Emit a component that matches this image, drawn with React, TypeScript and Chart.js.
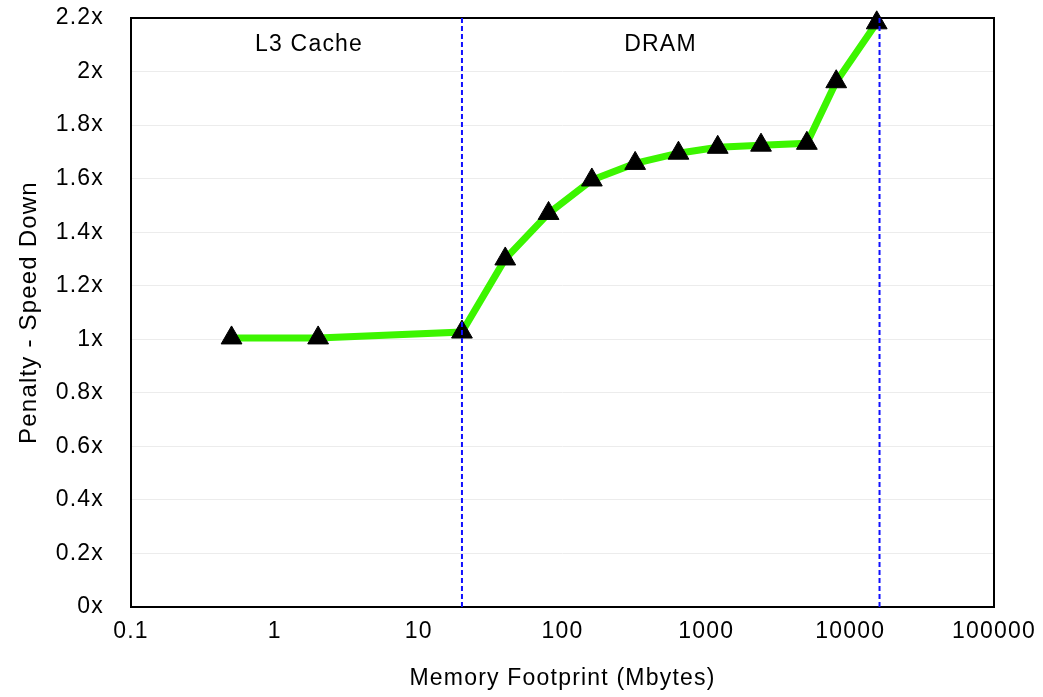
import { useEffect, useRef } from "react";
import { Chart, registerables } from "chart.js";

Chart.register(...registerables);

// ---- data ----
const footprintMB = [0.5, 2, 20, 40, 80, 160, 320, 640, 1200, 2400, 5000, 8000, 15300];
const penaltyFactor = [1.005, 1.005, 1.027, 1.3, 1.47, 1.595, 1.657, 1.695, 1.717, 1.725, 1.732, 1.962, 2.182];
const boundaryMB = [20, 16000];
const boundarySpan = [0, 2.2];
const regionNames = ["L3 Cache", "DRAM"];
const regionCenterMB = [1.73, 480];
const regionLabelLevel = 2.1;
const xTickValues = [0.1, 1, 10, 100, 1000, 10000, 100000];
const xTickLabels = ["0.1", "1", "10", "100", "1000", "10000", "100000"];
const yTickValues = [0, 0.2, 0.4, 0.6, 0.8, 1, 1.2, 1.4, 1.6, 1.8, 2, 2.2];
const yTickLabels = ["0x", "0.2x", "0.4x", "0.6x", "0.8x", "1x", "1.2x", "1.4x", "1.6x", "1.8x", "2x", "2.2x"];

const FONT = '"Liberation Sans", Arial, Helvetica, sans-serif';
const SPACING = "1.2px";

const spacingPlugin = {
  id: "spacing",
  beforeUpdate(chart: any) {
    chart.ctx.letterSpacing = SPACING;
  },
  beforeDraw(chart: any) {
    chart.ctx.letterSpacing = SPACING;
  },
};

const framePlugin = {
  id: "frame",
  beforeDatasetsDraw(chart: any) {
    const { ctx, chartArea } = chart;
    ctx.save();
    ctx.strokeStyle = "#000";
    ctx.lineWidth = 2;
    ctx.strokeRect(chartArea.left, chartArea.top, chartArea.right - chartArea.left, chartArea.bottom - chartArea.top);
    ctx.restore();
  },
};

const regionTextPlugin = {
  id: "regionText",
  afterDatasetsDraw(chart: any) {
    const { ctx, scales } = chart;
    ctx.save();
    ctx.letterSpacing = SPACING;
    ctx.font = `23px ${FONT}`;
    ctx.fillStyle = "#000";
    ctx.textAlign = "center";
    ctx.textBaseline = "middle";
    regionNames.forEach((name, i) => {
      ctx.fillText(name, scales.x.getPixelForValue(regionCenterMB[i]), scales.y.getPixelForValue(regionLabelLevel));
    });
    ctx.restore();
  },
};

export default function App() {
  const ref = useRef<HTMLCanvasElement | null>(null);

  useEffect(() => {
    if (!ref.current) return;
    const boundaryDatasets = boundaryMB.map((mb) => ({
      type: "line" as const,
      data: boundarySpan.map((y) => ({ x: mb, y })),
      borderColor: "#1010ff",
      borderWidth: 2,
      borderDash: [5, 3],
      pointRadius: 0,
      fill: false,
      order: 0,
    }));
    const chart = new Chart(ref.current, {
      type: "line",
      data: {
        datasets: [
          ...boundaryDatasets,
          {
            data: footprintMB.map((x, i) => ({ x, y: penaltyFactor[i] })),
            borderColor: "#3cf500",
            borderWidth: 7,
            pointStyle: "triangle",
            pointRadius: 12,
            pointBorderWidth: 1,
            pointBackgroundColor: "#000",
            pointBorderColor: "#000",
            fill: false,
            clip: false as any,
            order: 1,
          },
        ] as any,
      },
      options: {
        animation: false,
        responsive: true,
        maintainAspectRatio: false,
        layout: { padding: { top: 18, right: 49, left: 0, bottom: 0 } },
        plugins: { legend: { display: false }, tooltip: { enabled: false } },
        scales: {
          x: {
            type: "logarithmic",
            min: 0.1,
            max: 100000,
            afterBuildTicks: (scale: any) => {
              scale.ticks = xTickValues.map((value) => ({ value }));
            },
            afterFit: (scale: any) => {
              scale.height = 90;
              scale.paddingLeft = 0;
              scale.paddingRight = 0;
            },
            grid: { display: false, drawTicks: false },
            border: { display: false },
            ticks: {
              autoSkip: false,
              maxRotation: 0,
              padding: 11,
              color: "#000",
              font: { family: FONT, size: 23 },
              callback: (_v: any, i: number) => xTickLabels[i],
            },
            title: {
              display: true,
              text: "Memory Footprint (Mbytes)",
              color: "#000",
              font: { family: FONT, size: 23 },
              padding: { top: 0, bottom: 5 },
            },
          },
          y: {
            type: "linear",
            min: 0,
            max: 2.2,
            afterBuildTicks: (scale: any) => {
              scale.ticks = yTickValues.map((value) => ({ value }));
            },
            afterFit: (scale: any) => {
              scale.width = 131;
              scale.paddingTop = 0;
              scale.paddingBottom = 0;
            },
            grid: { color: "#ececec", lineWidth: 1, drawTicks: false },
            border: { display: false },
            ticks: {
              padding: 27,
              color: "#000",
              font: { family: FONT, size: 23 },
              callback: (_v: any, i: number) => yTickLabels[i],
            },
            title: {
              display: true,
              text: "Penalty - Speed Down",
              color: "#000",
              font: { family: FONT, size: 24 },
              padding: { top: 15, bottom: 0 },
            },
          },
        },
      } as any,
      plugins: [spacingPlugin, framePlugin, regionTextPlugin],
    });
    return () => chart.destroy();
  }, []);

  return (
    <div style={{ position: "absolute", left: 0, top: 0, width: 1043, height: 697, background: "#fff" }}>
      <canvas ref={ref} />
    </div>
  );
}
